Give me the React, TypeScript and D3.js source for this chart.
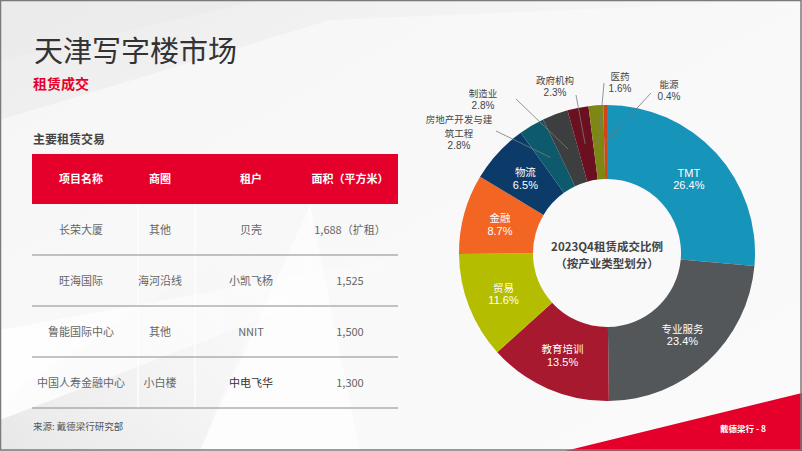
import React from "react";
import * as d3 from "d3";

const sliceNames = ["TMT", "专业服务", "教育培训", "贸易", "金融", "物流", "房地产开发与建筑工程", "制造业", "政府机构", "医药", "能源"];
const sliceValues = [26.4, 23.4, 13.5, 11.6, 8.7, 6.5, 2.8, 2.8, 2.3, 1.6, 0.4];
const sliceColors = ["#1794b9", "#54575a", "#a6192e", "#b5bd00", "#f26522", "#0c3b6a", "#0e5a6d", "#3c3e40", "#6a1020", "#7e8714", "#d0461a"];

const tableHeaders = ["项目名称", "商圈", "租户", "面积（平方米）"];
const colProject = ["长荣大厦", "旺海国际", "鲁能国际中心", "中国人寿金融中心"];
const colDistrict = ["其他", "海河沿线", "其他", "小白楼"];
const colTenant = ["贝壳", "小凯飞杨", "NNIT", "中电飞华"];
const colArea = ["1,688（扩租）", "1,525", "1,500", "1,300"];

// layout for outside labels (name lines, label center, leader start)
const outsideLayout: Record<string, { x: number; y: number; lines: string[]; lx: number; ly: number }> = {
  "房地产开发与建筑工程": { x: 459, y: 119, lines: ["房地产开发与建", "筑工程"], lx: 496, ly: 131 },
  "制造业": { x: 483, y: 93, lines: ["制造业"], lx: 516, ly: 99 },
  "政府机构": { x: 555, y: 80, lines: ["政府机构"], lx: 576, ly: 95 },
  "医药": { x: 620, y: 76, lines: ["医药"], lx: 604, ly: 83 },
  "能源": { x: 669, y: 84, lines: ["能源"], lx: 651, ly: 93 },
};

const FONT = "'Noto Sans CJK SC', 'Noto Sans', sans-serif";
const LATIN = "'Liberation Sans', Arial, sans-serif";

export default function App() {
  const W = 802, H = 451;
  const cx = 607, cy = 253, rOuter = 148, rInner = 74, rLabel = 111;
  const data = sliceNames.map((n, i) => ({ name: n, value: sliceValues[i], color: sliceColors[i] }));
  const pie = d3.pie<any>().sort(null).value((d: any) => d.value);
  const arcs = pie(data);
  const arc = d3.arc<any>().innerRadius(rInner).outerRadius(rOuter);
  const labelArc = d3.arc<any>().innerRadius(rLabel).outerRadius(rLabel);

  const tableX0 = 32, tableX1 = 398;
  const colCenters = [81, 160, 251, 350];
  const colSeps = [138, 195, 310];
  const headerTop = 154, headerBottom = 204;
  const rowH = d3.scaleBand<number>().domain(d3.range(4)).range([204, 408]);
  const rows = d3.range(4).map((i) => [colProject[i], colDistrict[i], colTenant[i], colArea[i]]);
  const LH_CJK = 14;
  const LH_NUM = 11.5;

  return (
    <svg width={W} height={H} style={{ position: "absolute", left: 0, top: 0, fontFamily: FONT }}>
      <defs>
        <linearGradient id="bg" x1="0" y1="0" x2="1" y2="1">
          <stop offset="0" stopColor="#ececec" />
          <stop offset="0.45" stopColor="#f6f6f6" />
          <stop offset="1" stopColor="#fbfbfb" />
        </linearGradient>
        <linearGradient id="shard1" x1="0" y1="0" x2="1" y2="0">
          <stop offset="0" stopColor="#ffffff" stopOpacity="0.9" />
          <stop offset="1" stopColor="#ffffff" stopOpacity="0" />
        </linearGradient>
        <linearGradient id="shard2" x1="0" y1="1" x2="1" y2="0">
          <stop offset="0" stopColor="#d9d9d9" stopOpacity="0.55" />
          <stop offset="1" stopColor="#ffffff" stopOpacity="0" />
        </linearGradient>
      </defs>
      <rect x={0} y={0} width={W} height={H} fill="url(#bg)" />
      <polygon points="0,120 330,20 802,0 802,451 0,451" fill="#fafafa" opacity={0.7} />
      <polygon points="300,205 200,451 0,451 0,400" fill="url(#shard2)" />
      <polygon points="310,205 360,451 200,451" fill="#ffffff" opacity={0.6} />
      <polygon points="0,330 440,250 0,420" fill="url(#shard1)" />
      <polygon points="0,0 260,0 0,60" fill="#e9e9e9" opacity={0.5} />

      {/* title */}
      <text x={34} y={62} fontSize={29} fill="#333333">天津写字楼市场</text>
      <text x={33} y={89} fontSize={14} fontWeight="bold" fill="#e4002b">租赁成交</text>
      <text x={33} y={144} fontSize={12} fontWeight="bold" fill="#444444">主要租赁交易</text>

      {/* table */}
      <rect x={tableX0} y={headerTop} width={tableX1 - tableX0} height={headerBottom - headerTop} fill="#e4002b" />
      {tableHeaders.map((h, i) => (
        <text key={h} x={colCenters[i]} y={(headerTop + headerBottom) / 2 + 4} textAnchor="middle" fontSize={11} fontWeight="bold" fill="#ffffff">{h}</text>
      ))}
      {colSeps.map((x) => (
        <line key={x} x1={x} x2={x} y1={headerBottom} y2={408} stroke="#ffffff" strokeWidth={1.5} opacity={0.9} />
      ))}
      {rows.map((r, i) => (
        <g key={i}>
          {r.map((t, j) => (
            <text key={j} x={colCenters[j]} y={(rowH(i) as number) + rowH.bandwidth() / 2 + 4} textAnchor="middle" fontSize={11} fill={j === 2 && i === 3 ? "#333333" : "#666666"}>{t}</text>
          ))}
          <line x1={tableX0} x2={tableX1} y1={(rowH(i) as number) + rowH.bandwidth()} y2={(rowH(i) as number) + rowH.bandwidth()} stroke="#8a8a8a" strokeWidth={1} />
        </g>
      ))}
      <text x={33} y={430} fontSize={9.5} fill="#555555">来源: 戴德梁行研究部</text>

      {/* donut */}
      <g transform={`translate(${cx},${cy})`}>
        {arcs.map((a, i) => (
          <path key={i} d={arc(a) as string} fill={a.data.color} />
        ))}
        {arcs.map((a, i) => {
          const lay = outsideLayout[a.data.name];
          if (lay) {
            const [ex, ey] = labelArc.centroid(a);
            const x = lay.x - cx;
            const y0 = lay.y - cy + 4;
            return (
              <g key={"l" + i}>
                <line x1={lay.lx - cx} y1={lay.ly - cy} x2={ex} y2={ey} stroke="#7a7a7a" strokeWidth={0.8} />
                {lay.lines.map((ln, k) => (
                  <text key={k} x={x} y={y0 + k * LH_CJK} textAnchor="middle" fontSize={9.5} fill="#444444">{ln}</text>
                ))}
                <text x={x} y={y0 + (lay.lines.length - 1) * LH_CJK + LH_NUM} textAnchor="middle" fontSize={10} fill="#444444" fontFamily={LATIN}>{a.data.value.toFixed(1)}%</text>
              </g>
            );
          }
          const [lx, ly] = labelArc.centroid(a);
          const isLatin = /^[A-Za-z]+$/.test(a.data.name);
          return (
            <g key={"l" + i}>
              <text x={lx} y={ly - 1.5} textAnchor="middle" fontSize={isLatin ? 11 : 10.5} fill="#ffffff" fontFamily={isLatin ? LATIN : FONT}>{a.data.name}</text>
              <text x={lx} y={ly + 11} textAnchor="middle" fontSize={11} fill="#ffffff" fontFamily={LATIN}>{a.data.value.toFixed(1)}%</text>
            </g>
          );
        })}
        <text x={0} y={-2} textAnchor="middle" fontSize={11.5} fontWeight="bold" fill="#444444">2023Q4租赁成交比例</text>
        <text x={0} y={15} textAnchor="middle" fontSize={11.5} fontWeight="bold" fill="#444444">（按产业类型划分）</text>
      </g>

      {/* bottom-right red band */}
      <polygon points="565,451 802,393 802,451" fill="#e4002b" />
      <text x={766} y={432} textAnchor="end" fontSize={8.5} fontWeight="bold" fill="#ffffff">戴德梁行 - 8</text>

      {/* frame */}
      <rect x={0.5} y={0.5} width={W - 1.5} height={H - 1.5} fill="none" stroke="#7a7a7a" strokeWidth={1.5} />
    </svg>
  );
}
